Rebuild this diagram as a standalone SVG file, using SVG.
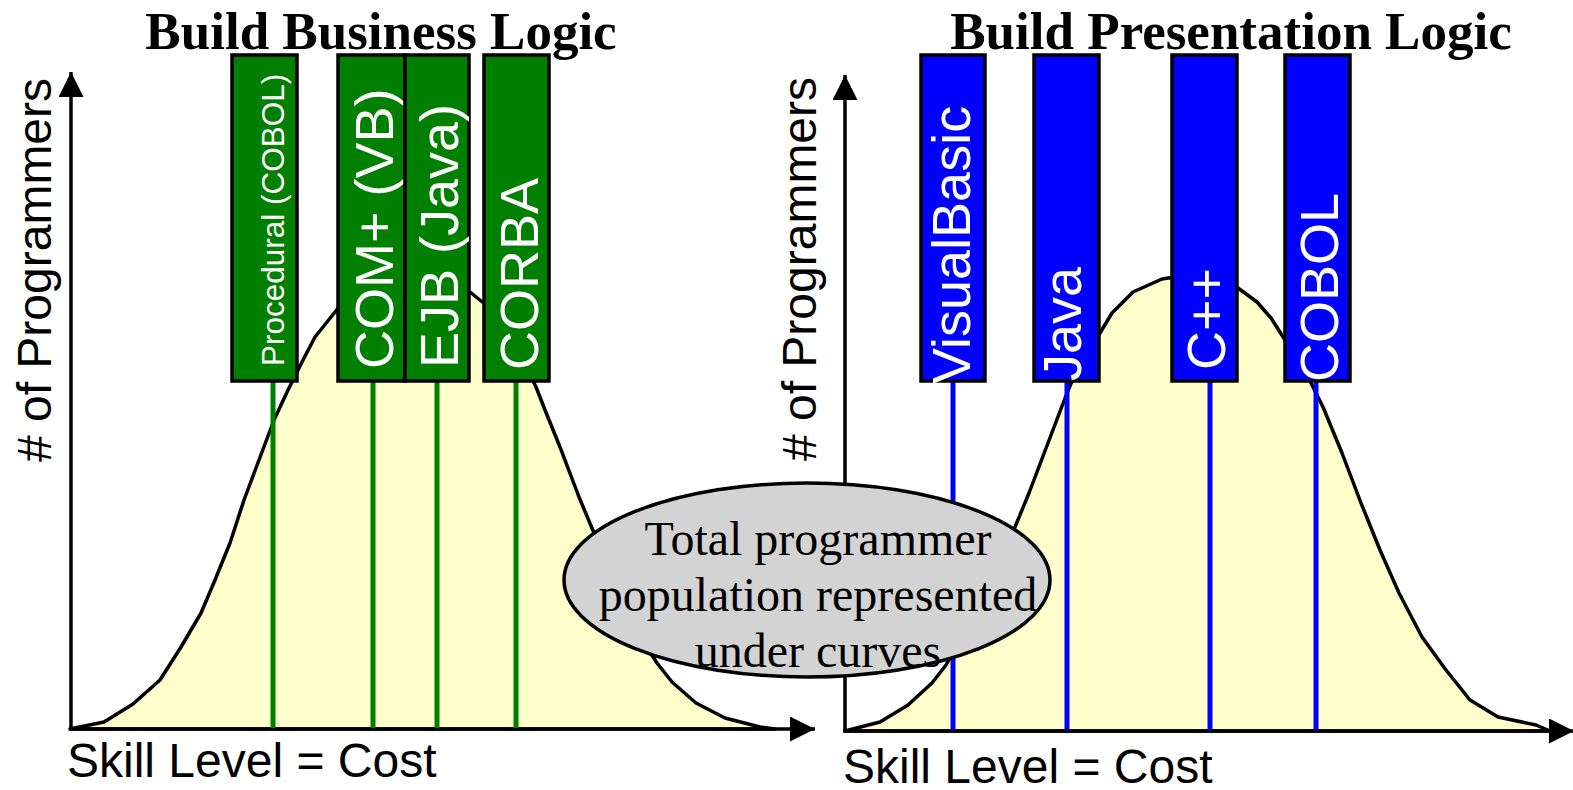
<svg xmlns="http://www.w3.org/2000/svg" width="1573" height="790" viewBox="0 0 1573 790">
<style>
.title{font-family:"Liberation Serif","Times New Roman",serif;font-weight:bold;font-size:53px;fill:#000;text-anchor:middle}
.lab{font-family:"Liberation Sans",Arial,sans-serif;font-size:48px;fill:#000}
.bt{font-family:"Liberation Sans",Arial,sans-serif;font-size:54px;fill:#fff}
.axis{stroke:#000;stroke-width:3.5;fill:none}
.curve{fill:#FFFFCC;stroke:#000;stroke-width:3.5;stroke-linejoin:round}
.gbox{fill:#007F00;stroke:#000;stroke-width:3.5}
.bbox{fill:#0000FF;stroke:#000;stroke-width:3.5}
.gline{stroke:#008000;stroke-width:5}
.bline{stroke:#0000FF;stroke-width:5}
.note{font-family:"Liberation Serif","Times New Roman",serif;font-size:48px;fill:#000;text-anchor:middle}
</style>
<defs>
<marker id="arr" viewBox="0 0 25 25" refX="25" refY="12.5" markerWidth="25" markerHeight="25" markerUnits="userSpaceOnUse" orient="auto">
<path d="M0,0 L25,12.5 L0,25 Z" fill="#000"/>
</marker>
</defs>

<g id="left-chart">
<path class="curve" d="M70,729 L104,722 L133,704 L160,680 L181,647 L201,613 L215,580 L230,543 L244,500 L259,460 L274,420 L288,390 L302,362 L315,337 L327,322 L339,307 L360,293 L385,285 L410,283 L440,285 L460,288 L470,292 L486,305 L500,325 L518,350 L536,387 L545,410 L560,447 L579,497 L594,533 L610,575 L625,610 L642,640 L657,663 L672,682 L696,703 L725,718 L760,727 L775,729 Z"/>
</g>
<g id="right-chart">
<path class="curve" d="M845,731 L880,722 L908,705 L932,683 L946,665 L960,640 L975,612 L995,570 L1015,527 L1029,493 L1048,443 L1067,393 L1084,353 L1100,333 L1112,313 L1133,292 L1162,279 L1175,277 L1200,278 L1238,288 L1257,302 L1271,318 L1285,340 L1300,362 L1313,387 L1323,407 L1342,453 L1361,503 L1380,550 L1399,593 L1422,637 L1446,670 L1470,700 L1498,717 L1536,725 L1550,731 Z"/>
</g>

<g id="axes">
<line class="axis" x1="71" y1="729" x2="71" y2="72" marker-end="url(#arr)"/>
<line class="axis" x1="69" y1="729" x2="815" y2="729" marker-end="url(#arr)"/>
<line class="axis" x1="845" y1="731" x2="845" y2="75" marker-end="url(#arr)"/>
<line class="axis" x1="843" y1="731" x2="1574" y2="731" marker-end="url(#arr)"/>
</g>

<g id="connectors">
<line class="gline" x1="273" y1="381" x2="273" y2="728"/>
<line class="gline" x1="373" y1="381" x2="373" y2="728"/>
<line class="gline" x1="437" y1="381" x2="437" y2="728"/>
<line class="gline" x1="516" y1="381" x2="516" y2="728"/>
<line class="bline" x1="953" y1="381" x2="953" y2="730"/>
<line class="bline" x1="1067" y1="381" x2="1067" y2="730"/>
<line class="bline" x1="1210" y1="381" x2="1210" y2="730"/>
<line class="bline" x1="1316" y1="381" x2="1316" y2="730"/>
</g>

<g id="title-left"><text class="title" x="381" y="49">Build Business Logic</text></g>
<g id="title-right"><text class="title" x="1231" y="49">Build Presentation Logic</text></g>

<g id="ylabel-left"><text class="lab" text-anchor="middle" transform="translate(51,270) rotate(-90)"># of Programmers</text></g>
<g id="ylabel-right"><text class="lab" text-anchor="middle" transform="translate(816,269) rotate(-90)"># of Programmers</text></g>
<g id="xlabel-left"><text class="lab" x="67" y="777">Skill Level = Cost</text></g>
<g id="xlabel-right"><text class="lab" x="843" y="783">Skill Level = Cost</text></g>

<g id="box-procedural">
<rect class="gbox" x="232" y="55" width="65" height="326"/>
<text class="bt" style="font-size:31.5px" transform="translate(284,366) rotate(-90)">Procedural (COBOL)</text>
</g>
<g id="box-com">
<rect class="gbox" x="338" y="55" width="67" height="326"/>
<text class="bt" transform="translate(393,369) rotate(-90)">COM+ (VB)</text>
</g>
<g id="box-ejb">
<rect class="gbox" x="405" y="55" width="64" height="326"/>
<text class="bt" transform="translate(458,368) rotate(-90)">EJB (Java)</text>
</g>
<g id="box-corba">
<rect class="gbox" x="484" y="55" width="65" height="326"/>
<text class="bt" transform="translate(538,370) rotate(-90)">CORBA</text>
</g>

<g id="box-visualbasic">
<rect class="bbox" x="921" y="55" width="64" height="326"/>
<text class="bt" transform="translate(970,384) rotate(-90)">VisualBasic</text>
</g>
<g id="box-java">
<rect class="bbox" x="1034" y="55" width="65" height="326"/>
<text class="bt" transform="translate(1081,381) rotate(-90)">Java</text>
</g>
<g id="box-cpp">
<rect class="bbox" x="1172" y="55" width="65" height="326"/>
<text class="bt" transform="translate(1225,370) rotate(-90)">C++</text>
</g>
<g id="box-cobol">
<rect class="bbox" x="1285" y="55" width="65" height="326"/>
<text class="bt" transform="translate(1338,382) rotate(-90)">COBOL</text>
</g>

<g id="note">
<ellipse cx="807" cy="580" rx="243" ry="97" fill="#D3D3D3" stroke="#000" stroke-width="3.5"/>
<text class="note" x="818" y="555">Total programmer</text>
<text class="note" x="818" y="611">population represented</text>
<text class="note" x="818" y="667">under curves</text>
</g>
</svg>
